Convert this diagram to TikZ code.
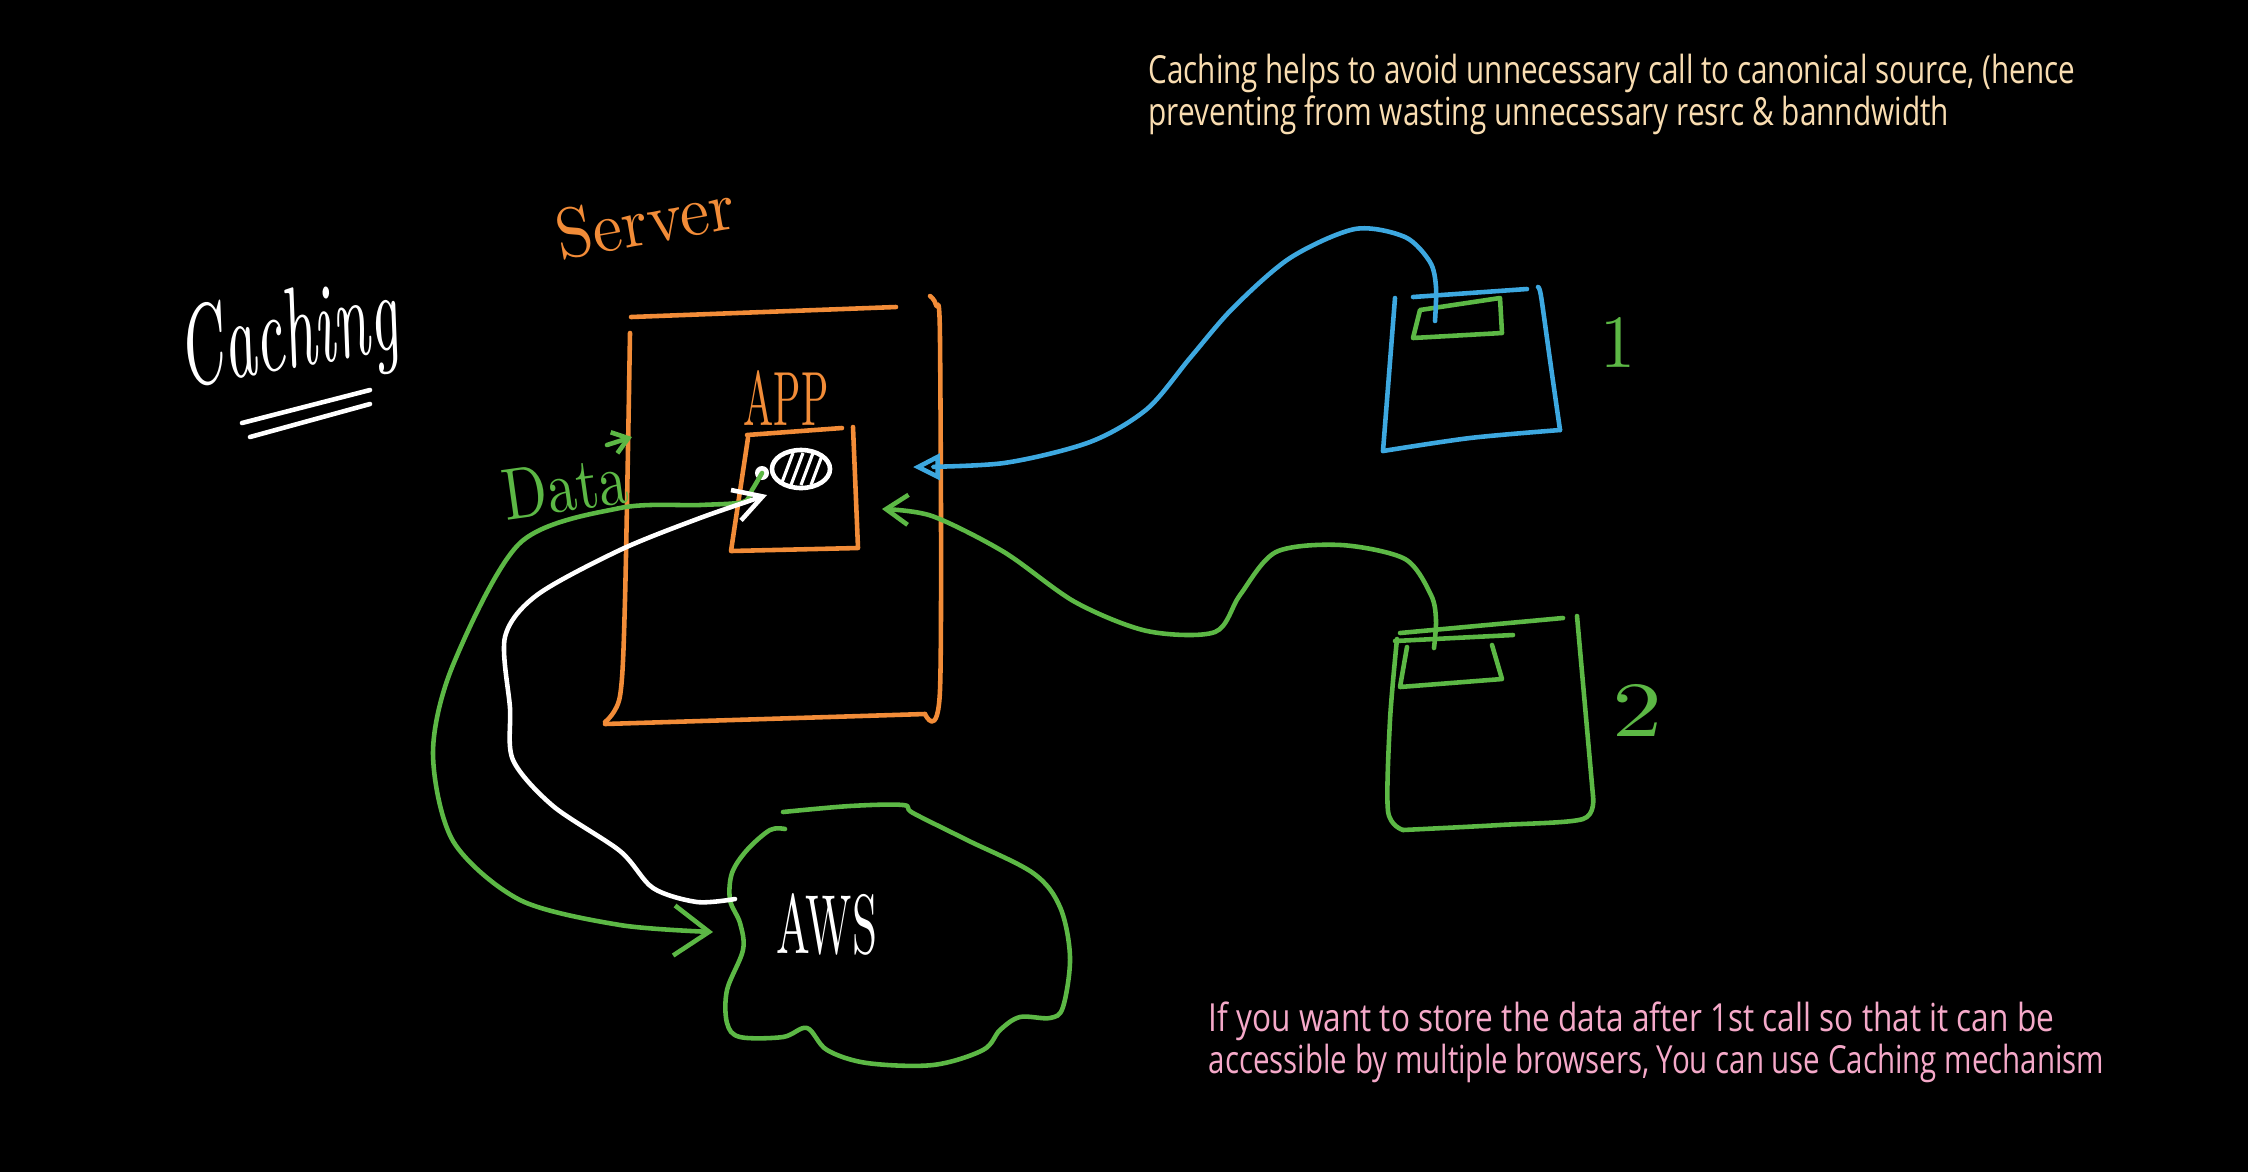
\documentclass[tikz,border=0pt]{standalone}
\usepackage{fontspec}
\newfontfamily\notefont{Open Sans}
\usetikzlibrary{arrows.meta,shapes.geometric}
\definecolor{ored}{HTML}{F28C38}
\definecolor{grn}{HTML}{5CB845}
\definecolor{blu}{HTML}{3DA8E0}
\definecolor{peach}{HTML}{F9DDB1}
\definecolor{pinktxt}{HTML}{F5A9C9}
\begin{document}
\begin{tikzpicture}[x=0.01cm,y=-0.01cm,
  pen/.style={line width=1.3pt,line cap=round,line join=round},
  note/.style={inner sep=0pt,anchor=base west,font=\notefont\fontsize{11}{13}\selectfont},
  hand/.style={inner sep=0pt},
  gbarb/.style={-{Straight Barb[length=3.5mm,width=5mm]}},
  wbarb/.style={-{Straight Barb[length=2.8mm,width=3.2mm]}},
  sbarb/.style={-{Straight Barb[length=2.2mm,width=3mm]}},
  tbarb/.style={-{Triangle[open,length=2.7mm,width=2.6mm]}}]
\fill[black] (0,0) rectangle (2248,1172);
\useasboundingbox (0,0) rectangle (2248,1172);

% notes
\node[note,peach] (n1) at (1148,83) {\resizebox{9.26cm}{\height}{Caching helps to avoid unnecessary call to canonical source, (hence}};
\node[note,peach] (n2) at (1148,125) {\resizebox{8.0cm}{\height}{preventing from wasting unnecessary resrc \& banndwidth}};
\node[note,pinktxt] (n3) at (1208,1031) {\resizebox{8.45cm}{\height}{If you want to store the data after 1st call so that it can be}};
\node[note,pinktxt] (n4) at (1208,1073) {\resizebox{8.95cm}{\height}{accessible by multiple browsers, You can use Caching mechanism}};

% title
\node[hand,white,rotate=10] (caching) at (288,340) {\resizebox{2.2cm}{0.8cm}{\itshape Caching}};
\draw[pen,white] (242,423) -- (370,390);
\draw[pen,white] (250,437) -- (370,404);

% server
\node[hand,ored,rotate=10] (server) at (645,220) {\resizebox{1.8cm}{0.5cm}{Server}};
\draw[pen,ored] (631,317) -- (896,307);
\draw[pen,ored] plot[smooth] coordinates {(930,296) (936,305) (940,340) (940,690) (925,714)};
\draw[pen,ored] (925,714) -- (605,724);
\draw[pen,ored] plot[smooth] coordinates {(605,722) (620,696) (625,600) (630,333)};

% app
\node[hand,ored] (app) at (786,398) {\resizebox{0.85cm}{0.55cm}{APP}};
\draw[pen,ored] (747,435) -- (842,428);
\draw[pen,ored] (853,427) -- (858,548) -- (731,551) -- (748,438);

% cache ellipse
\node[draw=white,pen,ellipse,minimum width=0.58cm,minimum height=0.38cm,inner sep=0pt] (cache) at (801,469) {};
\begin{scope}
\clip (801,469) ellipse [x radius=0.28cm,y radius=0.18cm];
\foreach \dx in {-14,-4,6,16} \draw[white,line width=0.9pt] (801+\dx-6,485) -- (801+\dx+6,453);
\end{scope}
\fill[white] (762,473) circle [radius=0.07cm];
\coordinate (blob) at (762,473);
\coordinate (cachein) at (767,495);

% data label
\node[hand,grn,rotate=8] (data) at (565,487) {\resizebox{1.25cm}{0.5cm}{Data}};
\draw[pen,grn,-{Straight Barb[length=1.5mm,width=2.2mm]}] (607,445) -- (632,437);

% cloud
\draw[pen,grn] plot[smooth,tension=0.55] coordinates {(783,812) (850,806) (903,805) (913,813) (967,840) (1033,873) (1060,907) (1070,957) (1063,1007) (1050,1018) (1020,1017) (1000,1030) (983,1050) (933,1065) (867,1063) (827,1050) (807,1028) (783,1037) (740,1037) (727,1023) (727,990) (743,950) (740,923) (730,900) (732,873) (747,850) (770,830) (785,829)};
\node[hand,white] (aws) at (827,924) {\resizebox{1.0cm}{0.6cm}{AWS}};
\coordinate (awsL) at (735,899);
\coordinate (awsIn) at (713,932);

% data connectors
\draw[pen,grn,gbarb] plot[smooth] coordinates {(blob) (752,490) (743,502) (700,505) (620,508) (520,543) (453,665) (433,753) (453,841) (520,900) (620,925) (awsIn)};
\draw[pen,white,wbarb] plot[smooth] coordinates {(awsL) (697,902) (653,888) (620,851) (553,806) (513,760) (510,708) (505,637) (537,595) (620,550) (700,518) (cachein)};

% browser 1
\draw[pen,blu] (1413,297) -- (1527,289);
\draw[pen,blu] plot[smooth] coordinates {(1538,287) (1541,296) (1550,360) (1560,430)};
\draw[pen,blu] plot[smooth] coordinates {(1560,430) (1470,438) (1383,451)};
\draw[pen,blu] (1383,451) -- (1395,298);
\draw[pen,grn] (1420,310) -- (1500,298) -- (1502,333) -- (1413,338) -- cycle;
\node[hand,grn] (one) at (1618,342) {\resizebox{0.35cm}{0.5cm}{1}};
\coordinate (b1) at (1435,321);
\coordinate (srvR1) at (913,467);
\draw[pen,blu,tbarb] plot[smooth] coordinates {(b1) (1436,287) (1430,262) (1405,237) (1355,229) (1290,258) (1233,308) (1190,358) (1147,409) (1090,442) (1004,463) (srvR1)};

% browser 2
\draw[pen,grn] (1400,633) -- (1563,618);
\draw[pen,grn] (1395,641) -- (1513,635);
\draw[pen,grn] plot[smooth] coordinates {(1397,639) (1390,720) (1388,811) (1403,830)};
\draw[pen,grn] plot[smooth] coordinates {(1403,830) (1500,825) (1583,819) (1593,796)};
\draw[pen,grn] (1593,796) -- (1577,616);
\draw[pen,grn] (1492,645) -- (1502,679) -- (1400,687) -- (1407,647);
\node[hand,grn] (two) at (1637,710) {\resizebox{0.5cm}{0.52cm}{2}};
\coordinate (b2) at (1434,648);
\coordinate (srvR2) at (882,509);
\draw[pen,grn,sbarb] plot[smooth] coordinates {(b2) (1436,620) (1431,595) (1405,559) (1341,545) (1276,552) (1240,595) (1215,632) (1147,631) (1075,602) (1004,552) (932,516) (srvR2)};
\end{tikzpicture}
\end{document}
